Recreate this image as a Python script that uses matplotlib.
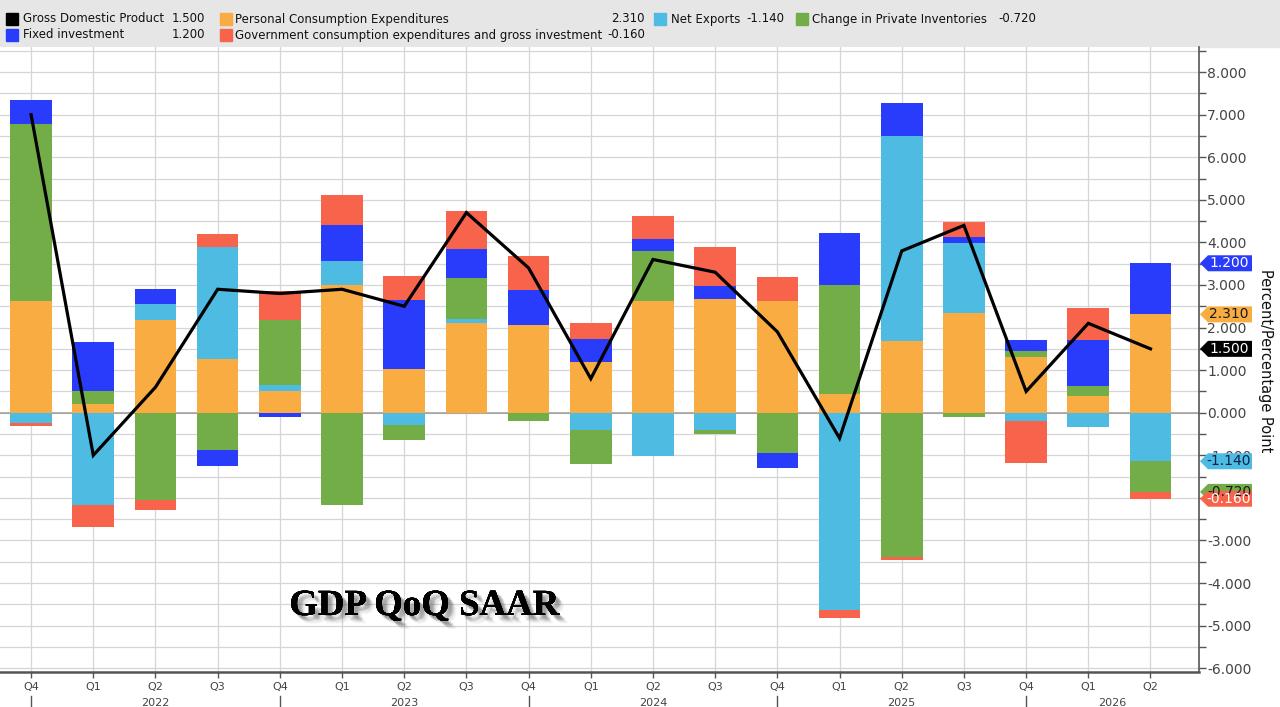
import numpy as np
import matplotlib
matplotlib.use('Agg')
import matplotlib.pyplot as plt
from matplotlib.patches import Rectangle, Polygon
from matplotlib.ticker import MultipleLocator, FuncFormatter
from matplotlib.transforms import blended_transform_factory
import matplotlib.patheffects as pe

plt.rcParams['font.family'] = ['DejaVu Sans']

# data (contributions, percentage points)
quarters = ["Q4", "Q1", "Q2", "Q3", "Q4", "Q1", "Q2", "Q3", "Q4", "Q1",
            "Q2", "Q3", "Q4", "Q1", "Q2", "Q3", "Q4", "Q1", "Q2"]
years = ["2022", "2023", "2024", "2025", "2026"]

gdp = [7.0, -1.0, 0.6, 2.9, 2.8, 2.9, 2.5, 4.7, 3.4, 0.8,
       3.6, 3.3, 1.9, -0.6, 3.8, 4.4, 0.5, 2.1, 1.5]
pce = [2.63, 0.21, 2.17, 1.27, 0.52, 2.99, 1.02, 2.10, 2.07, 1.19,
       2.63, 2.68, 2.63, 0.43, 1.69, 2.35, 1.32, 0.40, 2.31]
net_exports = [-0.24, -2.16, 0.39, 2.62, 0.14, 0.58, -0.30, 0.11, 0.0, -0.40,
               -1.02, -0.40, 0.0, -4.64, 4.82, 1.63, -0.19, -0.34, -1.14]
inventories = [4.15, 0.29, -2.04, -0.87, 1.52, -2.17, -0.35, 0.96, -0.20, -0.81,
               1.17, -0.10, -0.95, 2.56, -3.39, -0.09, 0.13, 0.22, -0.72]
fixed_inv = [0.56, 1.15, 0.34, -0.39, -0.09, 0.84, 1.63, 0.68, 0.81, 0.53,
             0.28, 0.29, -0.34, 1.23, 0.77, 0.15, 0.26, 1.09, 1.20]
government = [-0.08, -0.52, -0.25, 0.30, 0.69, 0.70, 0.56, 0.88, 0.79, 0.39,
              0.55, 0.92, 0.56, -0.18, -0.06, 0.36, -0.99, 0.76, -0.16]

c_gdp = 'black'
c_pce = '#f9ac42'
c_nx = '#4dbbe2'
c_inv = '#72ad47'
c_fix = '#2a3cfb'
c_gov = '#f7644b'

series = [
    ("Personal Consumption Expenditures", pce, c_pce),
    ("Net Exports", net_exports, c_nx),
    ("Change in Private Inventories", inventories, c_inv),
    ("Fixed investment", fixed_inv, c_fix),
    ("Government consumption expenditures and gross investment", government, c_gov),
]

W, H = 1280, 707
fig = plt.figure(figsize=(12.8, 7.07), dpi=100)
ax = fig.add_axes([0, 35 / H, 1199 / W, 625 / H])


def fx(px):
    return px / W


def fy(py):
    return 1 - py / H


# grey legend band
fig.add_artist(Rectangle((0, fy(47)), 1, 47 / H, transform=fig.transFigure,
                         color='#e6e6e6', zorder=0))

x = np.arange(len(quarters))
pos = np.zeros(len(x))
neg = np.zeros(len(x))
for name, vals, col in series:
    v = np.array(vals)
    bottom = np.where(v >= 0, pos, neg)
    ax.bar(x, v, 0.67, bottom=bottom, color=col, linewidth=0, zorder=3)
    pos += np.clip(v, 0, None)
    neg += np.clip(v, None, 0)

ax.plot(x, gdp, color=c_gdp, lw=2.3, zorder=4, solid_joinstyle='miter')
ax.axhline(0, color='#9a9a9a', lw=1.1, zorder=1)

ax.set_xlim(-0.5, 18.78)
ax.set_ylim(-6.09, 8.59)

# axes styling
ax.yaxis.tick_right()
ax.yaxis.set_major_locator(MultipleLocator(1))
ax.yaxis.set_minor_locator(MultipleLocator(0.5))
ax.yaxis.set_major_formatter(FuncFormatter(lambda v, p: f"{v:.3f}"))
ax.tick_params(axis='y', which='both', direction='out', length=5, width=1,
               color='#555555', labelsize=10, labelcolor='#444444', pad=1)
ax.set_xticks(x)
ax.set_xticklabels(quarters)
ax.tick_params(axis='x', length=4, width=1, color='#555555', labelsize=8,
               labelcolor='#444444', pad=3)
ax.set_axisbelow(True)
ax.grid(True, which='both', axis='y', color='#d6d6d6', lw=0.9)
ax.grid(True, which='major', axis='x', color='#d6d6d6', lw=0.9)
for s in ['top', 'left']:
    ax.spines[s].set_visible(False)
ax.spines['right'].set_color('#555555')
ax.spines['right'].set_linewidth(1.2)
ax.spines['bottom'].set_color('#555555')
ax.spines['bottom'].set_linewidth(1.8)

# years under the quarter labels
seps = [i for i, q in enumerate(quarters) if q == "Q4"]
edges = seps + [ax.get_xlim()[1]]
xt = ax.get_xaxis_transform()
for i, yr in enumerate(years):
    mid = (edges[i] + edges[i + 1]) / 2
    ax.text(mid, -0.049, yr, transform=xt, ha='center', va='center',
            fontsize=8, color='#444444', clip_on=False)
for s in seps:
    ax.plot([s, s], [-0.038, -0.08], transform=xt, color='#555555', lw=1,
            clip_on=False)

fig.text(fx(1265), fy(361), 'Percent/Percentage Point', rotation=270,
         ha='center', va='center', fontsize=10.5, color='#111111')

# value tags on the right axis
last = len(x) - 1
tags = [(gdp[last], gdp[last], c_gdp, 'white')]
cum_p, cum_n = 0.0, 0.0
for name, vals, col in series:
    v = vals[last]
    if v >= 0:
        cum_p += v
        level = cum_p
    else:
        cum_n += v
        level = cum_n
    txtc = 'white'
    if col == c_pce or col == c_inv:
        txtc = '#1a1a1a'
    if col == c_nx:
        txtc = '#0b1f4a'
    tags.append((level, v, col, txtc))
order = [tags[0], tags[4], tags[1], tags[2], tags[3], tags[5]]
bt = blended_transform_factory(ax.transAxes, ax.transData)
hh = 8 / 42.57
x0, x1, x2 = 1200 / 1199, 1208 / 1199, 1252 / 1199
for level, v, col, txtc in order:
    poly = Polygon([(x0, level), (x1, level + hh), (x2, level + hh),
                    (x2, level - hh), (x1, level - hh)], closed=True,
                   transform=bt, facecolor=col, edgecolor='none',
                   clip_on=False, zorder=6)
    ax.add_patch(poly)
    ax.text(1229 / 1199, level, f"{v:.3f}", transform=bt, ha='center',
            va='center', fontsize=10, color=txtc, clip_on=False, zorder=7)

# legend
leg_rows = [
    [("Gross Domestic Product", gdp[last], c_gdp, 6, 23, 205),
     ("Personal Consumption Expenditures", pce[last], c_pce, 220, 235, 645),
     ("Net Exports", net_exports[last], c_nx, 654, 671, 784),
     ("Change in Private Inventories", inventories[last], c_inv, 796, 812, 1036)],
    [("Fixed investment", fixed_inv[last], c_fix, 6, 23, 205),
     ("Government consumption expenditures and gross investment",
      government[last], c_gov, 220, 235, 645)],
]
row_y = [19, 35]
for ry, row in zip(row_y, leg_rows):
    for label, val, col, sx, tx, vx in row:
        fig.add_artist(Rectangle((fx(sx), fy(ry + 6)), 12 / W, 12 / H,
                                 transform=fig.transFigure, color=col))
        fig.text(fx(tx), fy(ry), label, ha='left', va='center',
                 fontsize=8.5, color='#111111')
        fig.text(fx(vx), fy(ry), f"{val:.3f}", ha='right', va='center',
                 fontsize=8.5, color='#111111')

# chart caption with a soft drop shadow
shadow = []
for dx, dy, a in [(6, -6, 0.06), (5, -5, 0.08), (4, -4, 0.1), (3, -4, 0.1),
                  (4, -3, 0.1), (3, -3, 0.12), (2, -2, 0.12)]:
    shadow.append(pe.withSimplePatchShadow(offset=(dx, dy), shadow_rgbFace='0.25', alpha=a))
ax.text(424 / 1199, (672 - 615) / 625, 'GDP QoQ SAAR', transform=ax.transAxes,
        ha='center', va='baseline', fontsize=26.5, fontweight='bold',
        family=['Liberation Serif', 'DejaVu Serif'], color='black', zorder=8,
        path_effects=shadow)

fig.savefig('out.png', dpi=100)
